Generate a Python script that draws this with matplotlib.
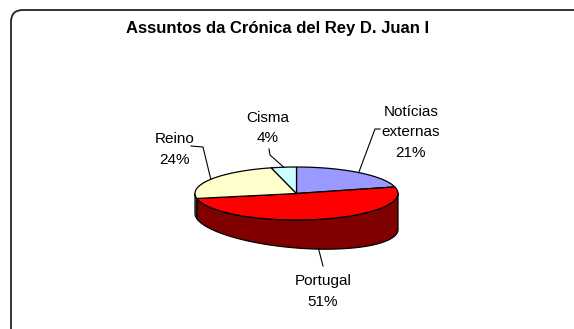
import numpy as np
import matplotlib.pyplot as plt
from matplotlib.patches import Polygon, FancyBboxPatch

plt.rcParams['font.family'] = ['Liberation Sans', 'DejaVu Sans']

title = 'Assuntos da Crónica del Rey D. Juan I'
labels = ['Notícias\nexternas', 'Portugal', 'Reino', 'Cisma']
values = [21, 51, 24, 4]
top_colors = ['#9999FF', '#FF0000', '#FFFFCC', '#CCFFFF']
side_colors = ['#4C4C80', '#800000', '#808066', '#668080']

W, H = 574, 329
fig = plt.figure(figsize=(W / 100, H / 100), dpi=100)
ax = fig.add_axes([0, 0, 1, 1])
ax.set_xlim(0, W)
ax.set_ylim(H, 0)
ax.axis('off')

# chart frame
frame = FancyBboxPatch((11, 10), 620, 340, boxstyle='round,pad=0,rounding_size=12',
                       fc='white', ec='#222222', lw=1.3, zorder=0)
ax.add_patch(frame)

ax.text(278, 33, title, ha='center', va='baseline', fontsize=12, fontweight='bold')

cx, cy, ra, rb = 296.5, 193.5, 101.5, 26.5


def top_pt(t):
    return cx + ra * np.cos(t), cy - rb * np.sin(t)


def depth(t):
    return 28 + 8 * np.cos(t)


def bot_pt(t):
    x, y = top_pt(t)
    return x, y + depth(t)


total = sum(values)
bounds = [np.pi / 2]
for v in values:
    bounds.append(bounds[-1] - 2 * np.pi * v / total)

# sides
for i in range(len(values)):
    t0, t1 = bounds[i], bounds[i + 1]  # t0 > t1
    for shift in (0, 2 * np.pi):
        lo = max(t1 + shift, -np.pi)
        hi = min(t0 + shift, 0)
        if hi - lo > 1e-6:
            ts = np.linspace(hi, lo, 80)
            topx, topy = top_pt(ts)
            botx, boty = bot_pt(ts[::-1])
            pts = np.column_stack([np.concatenate([topx, botx]),
                                   np.concatenate([topy, boty])])
            ax.add_patch(Polygon(pts, closed=True, fc=side_colors[i], ec='black',
                                 lw=0.9, zorder=2))

# tops
for i in range(len(values)):
    t0, t1 = bounds[i], bounds[i + 1]
    ts = np.linspace(t0, t1, 120)
    x, y = top_pt(ts)
    pts = np.column_stack([np.concatenate([[cx], x]), np.concatenate([[cy], y])])
    ax.add_patch(Polygon(pts, closed=True, fc=top_colors[i], ec='black', lw=0.9, zorder=3))

# labels: (center x, baseline of first line)
label_pos = [(411, 115.5), (323, 285), (175, 143), (268, 121.5)]
pitch = 20.8
fs = 11
for i, (lab, v) in enumerate(zip(labels, values)):
    lx, ly = label_pos[i]
    lines = lab.split('\n') + [f'{v}%']
    for k, line in enumerate(lines):
        ax.text(lx, ly + k * pitch, line, ha='center', va='baseline', fontsize=fs,
                zorder=5)

mid = [(bounds[i] + bounds[i + 1]) / 2 for i in range(len(values))]
lk = dict(color='black', lw=0.8, zorder=4)
# Noticias
ex, ey = top_pt(mid[0])
ax.plot([380, 375, ex], [129, 129, ey], **lk)
# Portugal (on bottom rim)
px, py = bot_pt(mid[1])
ax.plot([px, 323], [py, 266], **lk)
# Reino
rx, ry = top_pt(mid[2])
ax.plot([191, 203, rx], [146, 147, ry], **lk)
# Cisma
qx, qy = top_pt(mid[3])
ax.plot([269, 270, qx], [149, 155, qy], **lk)

fig.savefig('out.png', dpi=100)
